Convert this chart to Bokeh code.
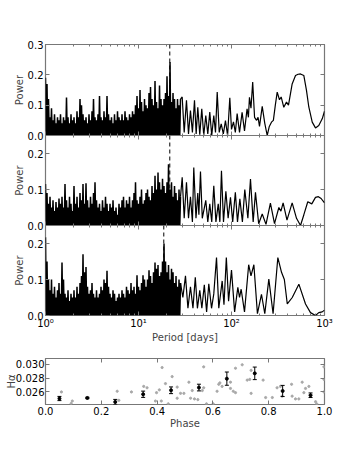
import numpy as np
from bokeh.plotting import figure
from bokeh.layouts import column
from bokeh.models import (FixedTicker, Span, LogAxis, LinearAxis, Whisker,
                          TeeHead, ColumnDataSource, NumeralTickFormatter, Range1d)
from bokeh.embed import file_html
from bokeh.resources import INLINE

FONT = "DejaVu Sans"
FRAME = "#777777"

# ---- periodogram data -------------------------------------------------
# dense part: peak powers sampled from 1 d to 28.3 d
dense_start, dense_end = 1.0, 28.3
top_dense = [
    0.19, 0.17, 0.12, 0.06, 0.09, 0.05, 0.07, 0.04, 0.06, 0.05,
    0.07, 0.04, 0.06, 0.05, 0.125, 0.06, 0.04, 0.07, 0.05, 0.06,
    0.04, 0.08, 0.06, 0.12, 0.10, 0.07, 0.05, 0.06, 0.04, 0.07,
    0.05, 0.08, 0.12, 0.06, 0.05, 0.07, 0.13, 0.06, 0.05, 0.08,
    0.06, 0.13, 0.07, 0.05, 0.06, 0.04, 0.07, 0.05, 0.08, 0.06,
    0.05, 0.07, 0.05, 0.08, 0.06, 0.05, 0.07, 0.06, 0.08, 0.07,
    0.10, 0.13, 0.09, 0.15, 0.11, 0.08, 0.12, 0.10, 0.09, 0.14,
    0.16, 0.12, 0.10, 0.18, 0.11, 0.09, 0.165, 0.12, 0.10, 0.12,
    0.14, 0.195, 0.13, 0.242, 0.11, 0.14, 0.12, 0.09, 0.12, 0.10,
    0.12]
mid_dense = [
    0.115, 0.09, 0.06, 0.08, 0.05, 0.07, 0.04, 0.065, 0.05, 0.075,
    0.06, 0.08, 0.05, 0.115, 0.07, 0.05, 0.08, 0.06, 0.04, 0.11,
    0.06, 0.08, 0.05, 0.09, 0.07, 0.115, 0.06, 0.117, 0.07, 0.05,
    0.08, 0.06, 0.09, 0.12, 0.07, 0.05, 0.06, 0.04, 0.07, 0.05,
    0.08, 0.06, 0.04, 0.06, 0.05, 0.07, 0.04, 0.05, 0.03, 0.06,
    0.05, 0.07, 0.08, 0.05, 0.07, 0.06, 0.08, 0.05, 0.07, 0.09,
    0.12, 0.07, 0.06, 0.08, 0.10, 0.06, 0.07, 0.09, 0.10, 0.08,
    0.07, 0.11, 0.09, 0.138, 0.10, 0.147, 0.12, 0.10, 0.13, 0.11,
    0.09, 0.12, 0.17, 0.10, 0.12, 0.08, 0.11, 0.09, 0.07, 0.10,
    0.08]
bot_dense = [
    0.217, 0.15, 0.10, 0.07, 0.10, 0.06, 0.08, 0.05, 0.07, 0.09,
    0.06, 0.147, 0.10, 0.06, 0.05, 0.07, 0.04, 0.06, 0.05, 0.07,
    0.05, 0.08, 0.06, 0.09, 0.11, 0.17, 0.12, 0.135, 0.08, 0.06,
    0.07, 0.09, 0.06, 0.05, 0.07, 0.05, 0.06, 0.08, 0.07, 0.10,
    0.09, 0.124, 0.08, 0.06, 0.05, 0.07, 0.06, 0.04, 0.05, 0.06,
    0.05, 0.07, 0.06, 0.05, 0.08, 0.07, 0.06, 0.09, 0.07, 0.08,
    0.06, 0.112, 0.08, 0.07, 0.09, 0.112, 0.10, 0.08, 0.10, 0.126,
    0.11, 0.09, 0.12, 0.147, 0.13, 0.14, 0.11, 0.12, 0.15, 0.20,
    0.15, 0.12, 0.14, 0.10, 0.13, 0.12, 0.09, 0.11, 0.08, 0.10,
    0.09]
dense_floor = 0.0

# sparse part: (period, power) turning points from 28.3 d to 1000 d
top_period = [28.3, 29.5, 31.0, 32.8, 34.5, 36.2, 38.0, 40.0, 41.7, 43.4,
              45.6, 47.9, 50.3, 52.9, 55.6, 58.4, 61.3, 64.5, 67.3, 70.2,
              73.8, 77.5, 81.7, 86.1, 90.8, 95.9, 100, 105, 110, 115,
              122, 130, 138, 147, 152, 156, 162, 169, 177, 186,
              193, 200, 214, 228, 242, 255, 269, 282, 296, 310,
              328, 342, 365, 390, 410, 449, 488, 520, 552, 599,
              640, 678, 738, 800, 868, 945, 1000]
top_power = [0.12, 0.127, 0.01, 0.116, 0.005, 0.082, 0.01, 0.116, 0.005, 0.093,
             0.003, 0.088, 0.0, 0.066, 0.005, 0.077, 0.0, 0.066, 0.01, 0.143,
             0.01, 0.038, 0.005, 0.049, 0.0, 0.124, 0.02, 0.045, 0.01, 0.072,
             0.01, 0.076, 0.015, 0.088, 0.06, 0.126, 0.09, 0.176, 0.06, 0.05,
             0.06, 0.03, 0.096, 0.04, 0.0, 0.03, 0.044, 0.05, 0.10, 0.143,
             0.118, 0.127, 0.093, 0.11, 0.10, 0.17, 0.198, 0.202, 0.203, 0.198,
             0.149, 0.094, 0.044, 0.025, 0.033, 0.055, 0.08]
mid_period = [28.3, 29.5, 31.0, 32.8, 34.5, 36.2, 38.0, 39.3, 41.5, 43.4,
              44.6, 46.4, 48.5, 52.9, 55.6, 58.4, 61.3, 64.5, 68, 72,
              75, 78, 82, 87, 92, 97.5, 103, 110, 116, 123,
              131, 139, 150, 160, 171, 181, 196, 214, 235, 262,
              290, 323, 340, 359, 395, 449, 500, 552, 600, 661,
              730, 800, 860, 920, 1000]
mid_power = [0.08, 0.134, 0.02, 0.12, 0.02, 0.08, 0.01, 0.161, 0.02, 0.09,
             0.03, 0.15, 0.02, 0.07, 0.01, 0.06, 0.01, 0.11, 0.01, 0.06,
             0.01, 0.152, 0.01, 0.095, 0.02, 0.078, 0.01, 0.092, 0.01, 0.074,
             0.01, 0.10, 0.02, 0.129, 0.01, 0.092, 0.005, 0.032, 0.003, 0.062,
             0.005, 0.05, 0.04, 0.063, 0.015, 0.063, 0.02, 0.0, 0.03, 0.066,
             0.06, 0.078, 0.08, 0.075, 0.063]
bot_period = [28.3, 30.0, 32.0, 34.0, 36.2, 38.5, 40.8, 43.0, 45.6, 48,
              51, 54, 57, 61, 64.5, 69, 73, 79.4, 83, 88,
              93, 100, 108, 117, 122, 127, 138, 153, 162, 174,
              190, 210, 228, 252, 280, 315, 345, 370, 398, 450,
              530, 625, 707, 800, 868, 945, 1000]
bot_power = [0.09, 0.05, 0.11, 0.02, 0.08, 0.02, 0.106, 0.02, 0.07, 0.02,
             0.085, 0.01, 0.088, 0.02, 0.06, 0.161, 0.02, 0.096, 0.03, 0.161,
             0.04, 0.126, 0.01, 0.078, 0.05, 0.073, 0.01, 0.141, 0.11, 0.141,
             0.005, 0.059, 0.005, 0.101, 0.005, 0.161, 0.12, 0.10, 0.032, 0.05,
             0.087, 0.032, 0.008, 0.0, 0.008, 0.01, 0.015]

dash_periods = [21.7, 21.7, 18.7]
y_ends = [0.3, 0.25, 0.25]
y_ticks = [[0.0, 0.1, 0.2, 0.3], [0.0, 0.1, 0.2], [0.0, 0.1, 0.2]]
x_major = [1, 10, 100, 1000]
x_minor = [2, 3, 4, 5, 6, 7, 8, 9, 20, 30, 40, 50, 60, 70, 80, 90,
           200, 300, 400, 500, 600, 700, 800, 900]
x_labels = {1: "10\u2070", 10: "10\u00b9", 100: "10\u00b2", 1000: "10\u00b3"}

# ---- phase-folded H-alpha data ---------------------------------------
phase_pts = [0.057, 0.096, 0.092, 0.257, 0.263, 0.308, 0.352, 0.364, 0.398, 0.408,
             0.394, 0.415, 0.418, 0.454, 0.43, 0.44, 0.472, 0.472, 0.484, 0.496,
             0.514, 0.52, 0.526, 0.534, 0.546, 0.562, 0.567, 0.567, 0.577, 0.601,
             0.615, 0.621, 0.625, 0.633, 0.663, 0.663, 0.673, 0.681, 0.681, 0.705,
             0.723, 0.732, 0.737, 0.737, 0.78, 0.789, 0.813, 0.83, 0.842, 0.848,
             0.882, 0.884, 0.896, 0.908, 0.92, 0.926, 0.932, 0.944, 0.968, 0.972,
             0.998, 0.998, 0.998]
halpha_pts = [0.0260, 0.0247, 0.02434, 0.0261, 0.0248, 0.0260, 0.0268, 0.0266, 0.0259, 0.0263,
              0.0247, 0.0247, 0.0295, 0.0282, 0.0272, 0.0243, 0.0267, 0.0251, 0.0258, 0.0258,
              0.0274, 0.0251, 0.0262, 0.0250, 0.0249, 0.0262, 0.0266, 0.0296, 0.0243, 0.0243,
              0.0261, 0.0271, 0.0273, 0.0268, 0.0265, 0.0274, 0.0261, 0.0259, 0.0294, 0.0299,
              0.0277, 0.0278, 0.0291, 0.0258, 0.0277, 0.0252, 0.0252, 0.0266, 0.0268, 0.0254,
              0.0271, 0.0254, 0.0250, 0.0250, 0.0274, 0.0259, 0.0265, 0.0268, 0.0246, 0.0243,
              0.0260, 0.0278, 0.0296]
bin_phase = [0.05, 0.15, 0.25, 0.35, 0.45, 0.55, 0.65, 0.75, 0.85, 0.95]
bin_mean = [0.02506, 0.02514, 0.02457, 0.02567, 0.02624, 0.02663, 0.02791, 0.02867, 0.02614, 0.02553]
bin_err = [0.0003, 0.0001, 0.00036, 0.00045, 0.00048, 0.00048, 0.00095, 0.0009, 0.0008, 0.00033]


def style_axis(ax, labels=True):
    ax.axis_line_color = None
    ax.major_tick_line_color = FRAME
    ax.minor_tick_line_color = FRAME
    ax.major_tick_in = 4
    ax.major_tick_out = 0
    ax.minor_tick_in = 2
    ax.minor_tick_out = 0
    ax.major_label_text_font = FONT
    ax.axis_label_text_font = FONT
    ax.axis_label_text_font_style = "normal"
    ax.axis_label_text_font_size = "10px"
    if labels:
        ax.major_label_text_font_size = "10px"
        ax.major_label_text_color = "black"
        ax.major_label_standoff = 2
    else:
        ax.major_label_text_font_size = "1px"
        ax.major_label_text_color = None
        ax.major_label_standoff = 0


def zigzag(periods, peaks):
    """Join each peak to the next one through the floor level between them."""
    xs, ys = [], []
    for k in range(len(periods)):
        xs.append(periods[k])
        ys.append(peaks[k])
        if k < len(periods) - 1:
            xs.append(np.sqrt(periods[k] * periods[k + 1]))
            ys.append(dense_floor)
    return xs, ys


def periodogram(i, dense, sp_p, sp_v, top_b, bot_b, fh, show_x):
    p = figure(frame_width=279, frame_height=fh, x_axis_type="log",
               x_range=Range1d(1, 1000), y_range=Range1d(0, y_ends[i]),
               output_backend="svg", toolbar_location=None,
               min_border_left=45, min_border_right=14,
               min_border_top=top_b, min_border_bottom=bot_b)
    p.border_fill_color = None
    p.outline_line_color = FRAME
    p.outline_line_width = 1.2
    p.grid.visible = False

    p.add_layout(Span(location=dash_periods[i], dimension="height", line_color="black",
                      line_width=1, line_dash="4 3", level="underlay"))
    dp = np.geomspace(dense_start, dense_end, len(dense))
    zx, zy = zigzag(list(dp), dense)
    p.line(zx, zy, line_color="black", line_width=1.5)
    p.line(sp_p, sp_v, line_color="black", line_width=1.2)

    xt = FixedTicker(ticks=x_major, minor_ticks=x_minor)
    yt = FixedTicker(ticks=y_ticks[i], minor_ticks=[])
    p.xaxis.ticker = xt
    p.yaxis.ticker = yt
    p.yaxis.formatter = NumeralTickFormatter(format="0.0")
    p.yaxis.axis_label = "Power"
    p.yaxis.axis_label_standoff = 0
    style_axis(p.xaxis[0], labels=show_x)
    style_axis(p.yaxis[0], labels=True)
    if show_x:
        p.xaxis.major_label_overrides = x_labels
        p.xaxis.axis_label = "Period [days]"
        p.xaxis.axis_label_standoff = 0
    top_ax = LogAxis(ticker=xt)
    style_axis(top_ax, labels=False)
    p.add_layout(top_ax, "above")
    right_ax = LinearAxis(ticker=yt)
    style_axis(right_ax, labels=False)
    p.add_layout(right_ax, "right")
    return p


p1 = periodogram(0, top_dense, top_period, top_power, 44, 6, 91, False)
p2 = periodogram(1, mid_dense, mid_period, mid_power, 0, 6, 90, False)
p3 = periodogram(2, bot_dense, bot_period, bot_power, 0, 4, 90, True)
p2.styles = {"margin-top": "-6px"}
p3.styles = {"margin-top": "-6px"}

# ---- phase panel -------------------------------------------------------
q = figure(frame_width=279, frame_height=46, x_range=Range1d(0, 1),
           y_range=Range1d(0.0242, 0.0308), output_backend="svg", toolbar_location=None,
           min_border_left=45, min_border_right=14, min_border_top=13, min_border_bottom=4)
q.border_fill_color = None
q.outline_line_color = FRAME
q.outline_line_width = 1.2
q.grid.visible = False
q.scatter(phase_pts, halpha_pts, size=2.2, color="#a8a8a8")
src = ColumnDataSource(dict(phase=bin_phase, mean=bin_mean,
                            upper=[m + e for m, e in zip(bin_mean, bin_err)],
                            lower=[m - e for m, e in zip(bin_mean, bin_err)]))
q.add_layout(Whisker(source=src, base="phase", upper="upper", lower="lower",
                     line_color="black", line_width=1, level="glyph",
                     upper_head=TeeHead(size=4, line_color="black", line_width=1),
                     lower_head=TeeHead(size=4, line_color="black", line_width=1)))
q.scatter("phase", "mean", source=src, size=3.0, color="black")

qxt = FixedTicker(ticks=[0.0, 0.2, 0.4, 0.6, 0.8, 1.0], minor_ticks=[])
qyt = FixedTicker(ticks=[0.026, 0.028, 0.030], minor_ticks=[])
q.xaxis.ticker = qxt
q.yaxis.ticker = qyt
q.xaxis.formatter = NumeralTickFormatter(format="0.0")
q.yaxis.formatter = NumeralTickFormatter(format="0.000")
style_axis(q.xaxis[0], labels=True)
style_axis(q.yaxis[0], labels=True)
q.xaxis.axis_label = "Phase"
q.xaxis.axis_label_standoff = 0
q.yaxis.axis_label = "H\u03b1"
q.yaxis.axis_label_standoff = -4
q.yaxis.major_label_standoff = 1
qa = LinearAxis(ticker=qxt)
style_axis(qa, labels=False)
q.add_layout(qa, "above")
qr = LinearAxis(ticker=qyt)
style_axis(qr, labels=False)
q.add_layout(qr, "right")

layout = column(p1, p2, p3, q, spacing=0)
open("out.html", "w").write(file_html(layout, INLINE))
